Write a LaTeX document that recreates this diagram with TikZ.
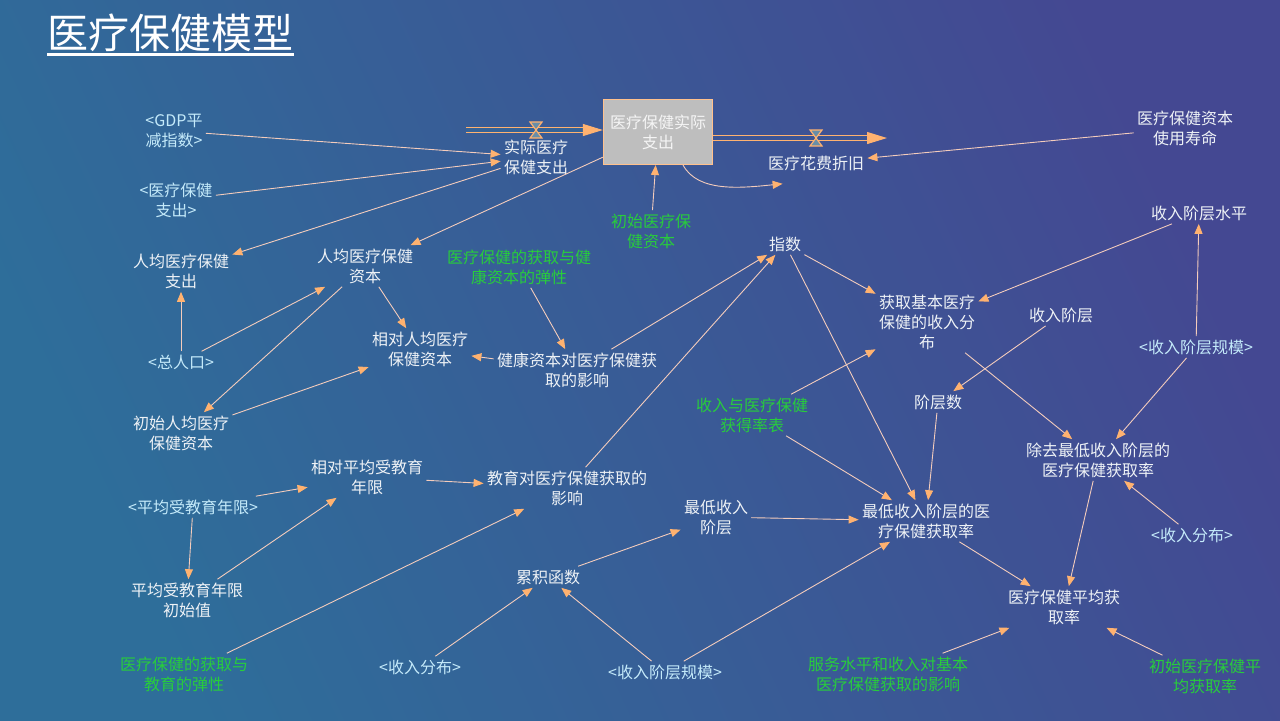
\documentclass[tikz,border=0pt]{standalone}
\usepackage{fontspec}
\setmainfont{Noto Sans CJK SC}
\usetikzlibrary{arrows.meta}
\definecolor{bgleft}{RGB}{46,110,154}
\definecolor{bgright}{RGB}{68,72,146}
\definecolor{varc}{RGB}{238,242,246}
\definecolor{ghostc}{RGB}{196,234,250}
\definecolor{constc}{RGB}{40,205,60}
\definecolor{linkc}{RGB}{244,204,188}
\definecolor{tipc}{RGB}{255,178,112}
\definecolor{stockc}{RGB}{190,190,190}

\begin{document}
\begin{tikzpicture}[x=0.5pt, y=-0.5pt,
  auxvar/.style={text=varc, align=center, font=\fontsize{8}{10}\selectfont, inner sep=1.5pt},
  ghostvar/.style={auxvar, text=ghostc},
  constvar/.style={auxvar, text=constc},
  stockbox/.style={draw=tipc!80!white, fill=stockc, line width=0.5pt, minimum width=53pt,
    minimum height=32.5pt, align=center, text=white!96!black, font=\fontsize{8}{10}\selectfont},
  link/.style={draw=linkc, line width=0.45pt, -{Triangle[length=5pt,width=4pt,color=tipc,fill=tipc]}},
  pipe/.style={draw=tipc, line width=0.5pt, double distance=1.8pt,
    -{Triangle[length=10pt,width=6pt,color=tipc,fill=tipc]}},
  valve/.pic={\draw[tipc, line width=0.6pt, fill=stockc!40!bgleft] (-6,-8) -- (6,-8) -- (-6,8) -- (6,8) -- cycle;}
]
\useasboundingbox (0,0) rectangle (1280,720);
\shade[left color=bgleft, right color=bgright, shading angle=115] (0,0) rectangle (1280,720);

\node (title) [anchor=west, text=white, font=\fontsize{20.5}{24}\selectfont, inner xsep=0pt, inner ysep=1pt] at (47,33) {医疗保健模型};
\draw[white, line width=1.4pt] (title.south west) -- (title.south east);

% stock and flows
\node (stock) [stockbox] at (658,132) {医疗保健实际\\支出};
\coordinate (insrc) at (466,130);
\coordinate (outsink) at (887,138);
\draw[pipe, double=bgleft!70!bgright] (insrc) -- (insrc -| stock.west);
\draw[pipe, double=bgleft!35!bgright] (stock.east |- outsink) -- (outsink);
\pic at (536,130) {valve};
\pic at (816,138) {valve};
\node (flowin) [auxvar] at (536,157) {实际医疗\\保健支出};
\node (depr) [auxvar] at (816,163) {医疗花费折旧};

% variables
\node (gdp) [ghostvar] at (174,131) {<GDP平\\减指数>};
\node (exp) [ghostvar] at (176,200) {<医疗保健\\支出>};
\node (lifetime) [auxvar] at (1185,128) {医疗保健资本\\使用寿命};
\node (ppexp) [auxvar] at (181,271) {人均医疗保健\\支出};
\node (ppcap) [auxvar] at (365,266) {人均医疗保健\\资本};
\node (initcap) [constvar] at (651,231) {初始医疗保\\健资本};
\node (elashealth) [constvar] at (519,267) {医疗保健的获取与健\\康资本的弹性};
\node (index) [auxvar] at (785,244) {指数};
\node (inclevel) [auxvar] at (1199,213) {收入阶层水平};
\node (basicdist) [auxvar] at (927,322) {获取基本医疗\\保健的收入分\\布};
\node (incclass) [auxvar] at (1061,315) {收入阶层};
\node (classscale) [ghostvar] at (1196,347) {<收入阶层规模>};
\node (pop) [ghostvar] at (181,362) {<总人口>};
\node (relcap) [auxvar] at (420,349) {相对人均医疗\\保健资本};
\node (healtheff) [auxvar] at (577,370) {健康资本对医疗保健获\\取的影响};
\node (initpp) [auxvar] at (181,433) {初始人均医疗\\保健资本};
\node (ratetable) [constvar] at (752,415) {收入与医疗保健\\获得率表};
\node (classnum) [auxvar] at (938,402) {阶层数};
\node (exclrate) [auxvar] at (1098,460) {除去最低收入阶层的\\医疗保健获取率};
\node (receduc) [auxvar] at (367,477) {相对平均受教育\\年限};
\node (educeff) [auxvar] at (567,488) {教育对医疗保健获取的\\影响};
\node (avgedu) [ghostvar] at (193,507) {<平均受教育年限>};
\node (lowclass) [auxvar] at (716,517) {最低收入\\阶层};
\node (lowrate) [auxvar] at (926,521) {最低收入阶层的医\\疗保健获取率};
\node (incdistr) [ghostvar] at (1192,535) {<收入分布>};
\node (initedu) [auxvar] at (187,600) {平均受教育年限\\初始值};
\node (cumfn) [auxvar] at (548,577) {累积函数};
\node (avgrate) [auxvar] at (1064,607) {医疗保健平均获\\取率};
\node (elasedu) [constvar] at (184,674) {医疗保健的获取与\\教育的弹性};
\node (incdistb) [ghostvar] at (420,667) {<收入分布>};
\node (classscaleb) [ghostvar] at (665,672) {<收入阶层规模>};
\node (svceff) [constvar] at (888,674) {服务水平和收入对基本\\医疗保健获取的影响};
\node (initavg) [constvar] at (1205,676) {初始医疗保健平\\均获取率};

% links
\draw[link] (gdp) -- (flowin);
\draw[link] (exp) -- (flowin);
\draw[link] (flowin) -- (ppexp);
\draw[link] (stock) -- (ppcap);
\draw[link] ([xshift=12.5pt]stock.south) .. controls +(15,28) and +(-40,4) .. ([xshift=9pt,yshift=-5pt]depr.south west);
\draw[link] (initcap) -- (stock);
\draw[link] (lifetime) -- (depr);
\draw[link] (ppcap) -- (relcap);
\draw[link] (pop) -- (ppexp);
\draw[link] (pop) -- (ppcap);
\draw[link] (ppcap) -- (initpp);
\draw[link] (initpp) -- (relcap);
\draw[link] (healtheff) -- (relcap);
\draw[link] (elashealth) -- (healtheff);
\draw[link] (healtheff) -- (index);
\draw[link] (educeff) -- (index);
\draw[link] (index) -- (basicdist);
\draw[link] (index) -- (lowrate);
\draw[link] (inclevel) -- (basicdist);
\draw[link] (classscale) -- (inclevel);
\draw[link] (incclass) -- (classnum);
\draw[link] (basicdist) -- (exclrate);
\draw[link] (classscale) -- (exclrate);
\draw[link] (ratetable) -- (basicdist);
\draw[link] (ratetable) -- (lowrate);
\draw[link] (classnum) -- (lowrate);
\draw[link] (lowclass) -- (lowrate);
\draw[link] (cumfn) -- (lowclass);
\draw[link] (incdistb) -- (cumfn);
\draw[link] (classscaleb) -- (cumfn);
\draw[link] (classscaleb) -- (lowrate);
\draw[link] (lowrate) -- (avgrate);
\draw[link] (exclrate) -- (avgrate);
\draw[link] (incdistr) -- (exclrate);
\draw[link] (svceff) -- (avgrate);
\draw[link] (initavg) -- (avgrate);
\draw[link] (receduc) -- (educeff);
\draw[link] (avgedu) -- (receduc);
\draw[link] (avgedu) -- (initedu);
\draw[link] (initedu) -- (receduc);
\draw[link] (elasedu) -- (educeff);
\end{tikzpicture}
\end{document}
